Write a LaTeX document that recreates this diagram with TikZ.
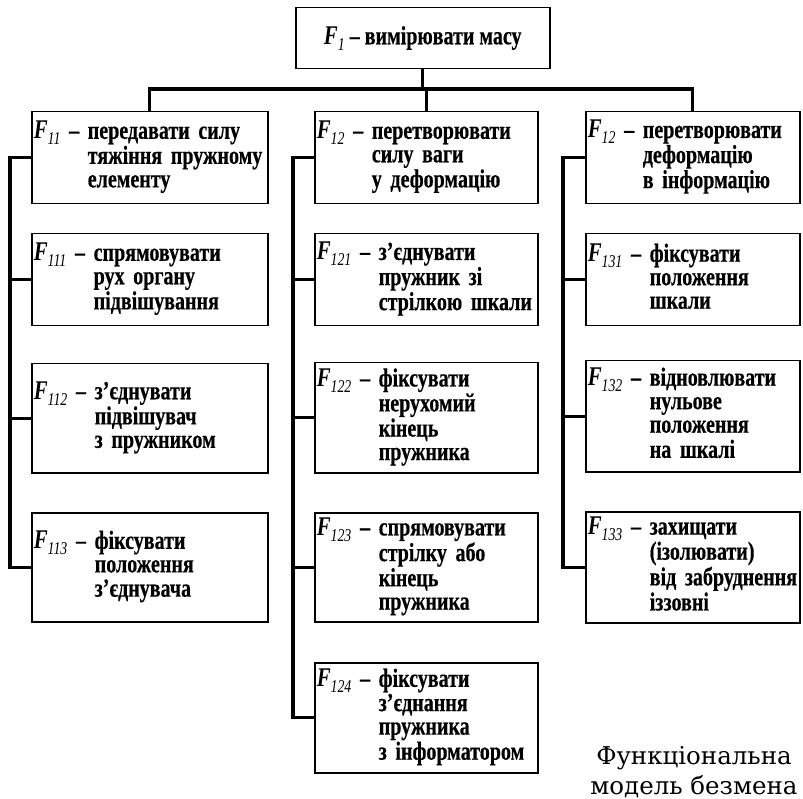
\documentclass[tikz,border=0pt]{standalone}
\usepackage{fontspec}
\setmainfont{Liberation Serif}
\newfontfamily\boxfont[FakeStretch=0.77, BoldFeatures={FakeBold=0.5}]{Liberation Serif}
\newfontfamily\capfont{DejaVu Serif}

% function label F with an italic index
\newcommand\Flab[1]{{\fontsize{27}{27}\selectfont\bfseries\itshape F}\raisebox{-6pt}{\fontsize{18}{18}\selectfont\mdseries\itshape #1}}
% label, dash and a hanging block of lines
\newcommand\ftext[2]{\Flab{#1}\ –\ \begin{tabular}[t]{@{}l@{}}#2\end{tabular}}

\tikzset{
  fn/.style={draw, line width=1.5pt, anchor=north west, inner xsep=2pt, inner ysep=0pt,
             align=left, font=\boxfont\bfseries\fontsize{26}{23.5}\selectfont},
  colA/.style={fn, text width=232pt},
  colB/.style={fn, text width=219pt},
  colC/.style={fn, text width=210pt},
  conn/.style={line width=3.2pt, line join=miter},
}

\begin{document}
\begin{tikzpicture}[x=1pt, y=-1pt]
\useasboundingbox (0,0) rectangle (803,799);

% root function
\node[fn, align=center, minimum width=254pt, minimum height=61pt] (f1) at (295,7)
  {\Flab{1}\ – вимірювати масу};

% first column
\node[colA, minimum height=92pt]  (f11)  at (31,111)
  {\ftext{11}{передавати силу\\тяжіння пружному\\елементу}};
\node[colA, minimum height=92pt]  (f111) at (31,233)
  {\ftext{111}{спрямовувати\\рух органу\\підвішування}};
\node[colA, minimum height=109pt] (f112) at (31,363)
  {\ftext{112}{з’єднувати\\підвішувач\\з пружником}};
\node[colA, minimum height=109pt] (f113) at (31,512)
  {\ftext{113}{фіксувати\\положення\\з’єднувача}};

% second column
\node[colB, minimum height=92pt]  (f12)  at (314,111)
  {\ftext{12}{перетворювати\\силу ваги\\у деформацію}};
\node[colB, minimum height=92pt]  (f121) at (314,233)
  {\ftext{121}{з’єднувати\\пружник зі\\стрілкою шкали}};
\node[colB, minimum height=110pt] (f122) at (314,362)
  {\ftext{122}{фіксувати\\нерухомий\\кінець\\пружника}};
\node[colB, minimum height=109pt] (f123) at (314,512)
  {\ftext{123}{спрямовувати\\стрілку або\\кінець\\пружника}};
\node[colB, minimum height=110pt] (f124) at (314,662)
  {\ftext{124}{фіксувати\\з’єднання\\пружника\\з інформатором}};

% third column
\node[colC, minimum height=92pt]  (f13)  at (585,111)
  {\ftext{12}{перетворювати\\деформацію\\в інформацію}};
\node[colC, minimum height=92pt]  (f131) at (585,233)
  {\ftext{131}{фіксувати\\положення\\шкали}};
\node[colC, minimum height=111pt] (f132) at (585,360)
  {\ftext{132}{відновлювати\\нульове\\положення\\на шкалі}};
\node[colC, minimum height=111pt] (f133) at (585,511)
  {\ftext{133}{захищати\\(ізолювати)\\від забруднення\\іззовні}};

% bus under the root
\coordinate (bus) at (0,89);
\draw[conn] (f1.south) -- (f1.south |- bus);
\draw[conn] (f11.north) -- (f11.north |- bus) -- (f13.north |- bus) -- (f13.north);
\draw[conn] (f12.north) -- (f12.north |- bus);

% column trunks
\coordinate (tA) at (10,0);
\coordinate (tB) at (293,0);
\coordinate (tC) at (563,0);
\draw[conn] (f11.west) -- (f11.west -| tA) -- (f113.west -| tA) -- (f113.west);
\draw[conn] (f111.west) -- (f111.west -| tA);
\draw[conn] (f112.west) -- (f112.west -| tA);

\draw[conn] (f12.west) -- (f12.west -| tB) -- (f124.west -| tB) -- (f124.west);
\draw[conn] (f121.west) -- (f121.west -| tB);
\draw[conn] (f122.west) -- (f122.west -| tB);
\draw[conn] (f123.west) -- (f123.west -| tB);

\draw[conn] (f13.west) -- (f13.west -| tC) -- (f133.west -| tC) -- (f133.west);
\draw[conn] (f131.west) -- (f131.west -| tC);
\draw[conn] (f132.west) -- (f132.west -| tC);

% caption
\node[font=\capfont\fontsize{24.5}{30}\selectfont, align=center, anchor=south, inner sep=0pt]
  (cap) at (694,798) {Функціональна\\модель безмена};
\end{tikzpicture}
\end{document}
